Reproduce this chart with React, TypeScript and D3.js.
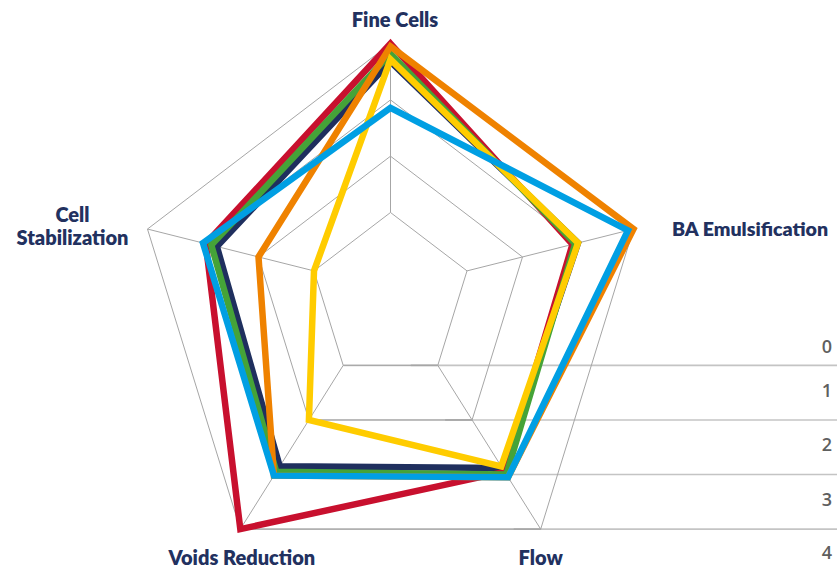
import React from "react";
import * as d3 from "d3";

const categories = ["Fine Cells", "BA Emulsification", "Flow", "Voids Reduction", "Cell Stabilization"];
const gridLevels = [1, 2, 3, 4];
const tickLabels = ["0", "1", "2", "3", "4"];

const navyValues = [3.68, 3.0, 2.88, 2.85, 2.75];
const redValues = [4.0, 2.9, 2.95, 4.0, 2.95];
const greenValues = [3.82, 2.95, 3.0, 2.95, 2.85];
const orangeValues = [3.95, 4.0, 3.05, 3.02, 2.0];
const yellowValues = [3.72, 3.0, 2.85, 2.0, 1.0];
const blueValues = [2.86, 3.9, 3.05, 3.02, 3.0];

const seriesList = [
  { name: "navy", values: navyValues, color: "#1f2f5e" },
  { name: "red", values: redValues, color: "#c8102e" },
  { name: "green", values: greenValues, color: "#45a338" },
  { name: "orange", values: orangeValues, color: "#ef8200" },
  { name: "yellow", values: yellowValues, color: "#ffcc00" },
  { name: "blue", values: blueValues, color: "#009fe3" },
];

const W = 837;
const H = 568;
const cx = 390.5;
const kx = 0.952;
const rScale = d3.scaleLinear().domain([1, 4]).range([84.5, 268.4]);
const cyScale = d3.scaleLinear().domain([1, 4]).range([297, 312]);

function pt(v: number, i: number): [number, number] {
  const a = (i * 2 * Math.PI) / categories.length;
  const r = rScale(v);
  return [cx + kx * r * Math.sin(a), cyScale(v) - r * Math.cos(a)];
}

const lineGen = d3.line<[number, number]>().curve(d3.curveLinearClosed);

const textColor = "#22315f";
const font = "Lato, 'Open Sans', sans-serif";

export default function App() {
  const outer = categories.map((_, i) => pt(4, i));
  const lineYs = gridLevels.map((v) => pt(v, 2)[1]);
  const labelYs = tickLabels.map((_, i) => {
    if (i === 0) return lineYs[0] - 19;
    if (i === tickLabels.length - 1) return lineYs[lineYs.length - 1] + 23;
    return (lineYs[i - 1] + lineYs[i]) / 2 - 3;
  });

  return (
    <svg
      width={W}
      height={H}
      style={{ position: "absolute", left: 0, top: 0, background: "#fff" }}
      fontFamily={font}
    >
      {/* horizontal guide lines */}
      {gridLevels.map((v) => {
        const [bx, by] = pt(v, 2);
        const [lx] = pt(v, 3);
        return (
          <g key={"h" + v}>
            <line x1={lx} x2={W} y1={by} y2={by} stroke="#c4c4c4" strokeWidth={1.6} />
            <line x1={bx - 27} x2={bx} y1={by} y2={by} stroke="#a9a9a9" strokeWidth={1.6} />
          </g>
        );
      })}
      {/* pentagons */}
      {gridLevels.map((v) => (
        <path
          key={"p" + v}
          d={lineGen(categories.map((_, i) => pt(v, i))) || ""}
          fill="none"
          stroke="#a6a6a6"
          strokeWidth={1}
        />
      ))}
      {/* spokes */}
      {categories.map((c, i) => {
        const [x1, y1] = pt(gridLevels[0], i);
        const [x2, y2] = pt(gridLevels[gridLevels.length - 1], i);
        return <line key={"s" + c} x1={x1} y1={y1} x2={x2} y2={y2} stroke="#a6a6a6" strokeWidth={1} />;
      })}
      {/* series */}
      {seriesList.map((s) => (
        <path
          key={s.name}
          d={lineGen(s.values.map((v, i) => pt(v, i))) || ""}
          fill="none"
          stroke={s.color}
          strokeWidth={6.5}
          strokeLinejoin="miter"
          strokeMiterlimit={10}
        />
      ))}
      {/* tick labels */}
      {tickLabels.map((t, i) => (
        <text
          key={"t" + t}
          x={832}
          y={labelYs[i]}
          textAnchor="end"
          dominantBaseline="central"
          fontSize={18}
          fontWeight={600}
          fontFamily="'Open Sans', sans-serif"
          fill="#5f5f5f"
        >
          {t}
        </text>
      ))}
      {/* category labels */}
      <g fontWeight={800} fontSize={20} fill={textColor}>
        <text x={outer[0][0] + 4.5} y={27} textAnchor="middle">
          {categories[0]}
        </text>
        <text x={672} y={outer[1][1] + 7} textAnchor="start" fontSize={19.6}>
          {categories[1]}
        </text>
        <text x={outer[2][0]} y={565} textAnchor="middle">
          {categories[2]}
        </text>
        <text x={outer[3][0] + 1.5} y={565} textAnchor="middle">
          {categories[3]}
        </text>
        <text x={72.5} y={222} textAnchor="middle">
          {categories[4].split(" ")[0]}
        </text>
        <text x={72.5} y={245} textAnchor="middle">
          {categories[4].split(" ")[1]}
        </text>
      </g>
    </svg>
  );
}
